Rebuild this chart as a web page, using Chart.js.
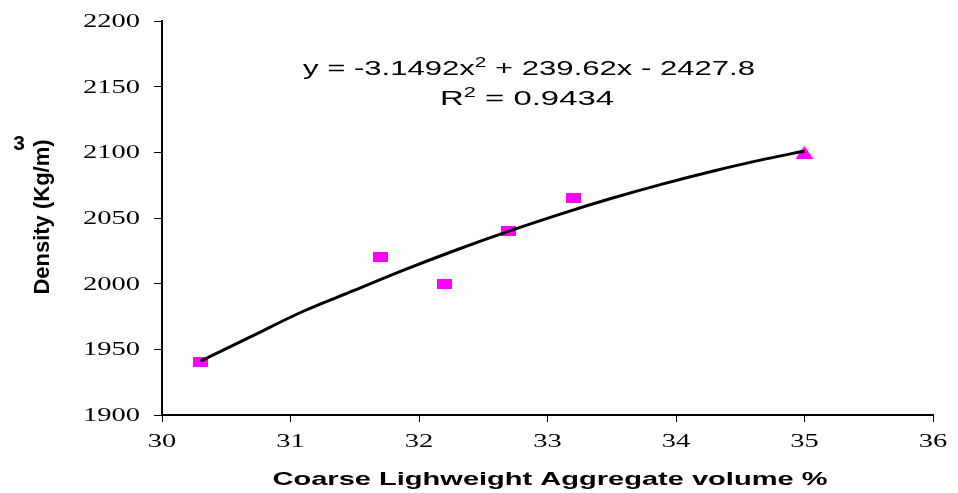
<!DOCTYPE html>
<html>
<head>
<meta charset="utf-8">
<script src="https://cdn.jsdelivr.net/npm/chart.js@4"></script>
<style>
  html, body { margin: 0; padding: 0; background: #fff; }
  #wrap { width: 958px; height: 493px; }
</style>
</head>
<body>
<div id="wrap"><canvas id="densityChart"></canvas></div>
<script>
// measured points (Coarse LWA volume %, density kg/m3)
const volume = [30.3, 31.7, 32.2, 32.7, 33.2];
const density = [1940, 2020, 2000, 2040, 2065];
const lastVolume = [35.0];
const lastDensity = [2100];

// polynomial trendline
const trendX = [30.3, 30.7, 31.1, 31.5, 31.9, 32.3, 32.7, 33.1, 33.5, 33.9, 34.3, 34.7, 35.0];
const trendY = [1941, 1960, 1979, 1995, 2011, 2026, 2040, 2053, 2065, 2076, 2086, 2095, 2101];

const xTicks = [30, 31, 32, 33, 34, 35, 36];
const yTicks = [1900, 1950, 2000, 2050, 2100, 2150, 2200];

const toXY = (xs, ys) => xs.map((x, i) => ({x: x, y: ys[i]}));

// marker images
function rectMarker() {
  const c = document.createElement('canvas');
  c.width = 15; c.height = 10;
  const g = c.getContext('2d');
  g.fillStyle = '#FF00FF';
  g.fillRect(0, 0, 15, 10);
  return c;
}
function triMarker() {
  const c = document.createElement('canvas');
  c.width = 18; c.height = 13;
  const g = c.getContext('2d');
  g.fillStyle = '#FF00FF';
  g.beginPath();
  g.moveTo(9, 0); g.lineTo(18, 13); g.lineTo(0, 13);
  g.closePath(); g.fill();
  return c;
}

// draws runs of text squeezed/stretched horizontally to a given width
function drawRich(ctx, parts, cx, baseline, targetWidth) {
  let w = 0;
  parts.forEach(p => { ctx.font = p.font; w += ctx.measureText(p.t).width; });
  const sx = targetWidth / w;
  ctx.save();
  ctx.translate(cx - targetWidth / 2, baseline);
  ctx.scale(sx, 1);
  ctx.textAlign = 'left';
  ctx.textBaseline = 'alphabetic';
  let x = 0;
  parts.forEach(p => {
    ctx.font = p.font;
    ctx.fillText(p.t, x, p.dy || 0);
    x += ctx.measureText(p.t).width;
  });
  ctx.restore();
}

const textPlugin = {
  id: 'excelText',
  afterDraw(chart) {
    const ctx = chart.ctx;
    const xs = chart.scales.x, ys = chart.scales.y;
    ctx.save();
    ctx.fillStyle = '#000';
    // tick labels (stretched serif like the original)
    ctx.font = '19px "Liberation Serif"';
    yTicks.forEach(v => {
      const y = ys.getPixelForValue(v);
      ctx.save();
      ctx.translate(140, y);
      ctx.scale(1.5, 1);
      ctx.textAlign = 'right';
      ctx.textBaseline = 'middle';
      ctx.fillText(String(v), 0, 1);
      ctx.restore();
    });
    xTicks.forEach(v => {
      const x = xs.getPixelForValue(v);
      ctx.save();
      ctx.translate(x, 447);
      ctx.scale(1.5, 1);
      ctx.textAlign = 'center';
      ctx.textBaseline = 'alphabetic';
      ctx.fillText(String(v), 0, 0);
      ctx.restore();
    });

    // axis titles
    drawRich(ctx, [{t: 'Coarse Lighweight Aggregate volume %', font: 'bold 19px "Liberation Sans"'}], 550, 485, 555);

    ctx.save();
    ctx.translate(49, 217);
    ctx.rotate(-Math.PI / 2);
    ctx.font = 'bold 22px "Liberation Sans"';
    ctx.textAlign = 'center';
    ctx.textBaseline = 'alphabetic';
    ctx.fillText('Density (Kg/m)', 0, 0);
    ctx.restore();
    ctx.font = 'bold 21px "Liberation Sans"';
    ctx.textAlign = 'center';
    ctx.textBaseline = 'alphabetic';
    ctx.fillText('3', 19, 150);

    // trendline equation
    const reg = '21px "Liberation Sans"', sup = '14px "Liberation Sans"';
    drawRich(ctx, [
      {t: 'y = -3.1492x', font: reg},
      {t: '2', font: sup, dy: -8},
      {t: ' + 239.62x - 2427.8', font: reg}
    ], 529, 75, 452);
    drawRich(ctx, [
      {t: 'R', font: reg},
      {t: '2', font: sup, dy: -8},
      {t: ' = 0.9434', font: reg}
    ], 527, 105, 174);
    ctx.restore();
  }
};

const config = {
  type: 'scatter',
  data: {
    datasets: [
      {
        label: 'Poly. trend',
        data: toXY(trendX, trendY),
        showLine: true,
        borderColor: '#000',
        borderWidth: 3,
        tension: 0.4,
        pointRadius: 0
      },
      {
        label: 'Density',
        data: toXY(volume, density),
        pointStyle: rectMarker(),
        backgroundColor: '#FF00FF'
      },
      {
        label: 'Density 35%',
        data: toXY(lastVolume, lastDensity),
        pointStyle: triMarker(),
        backgroundColor: '#FF00FF'
      }
    ]
  },
  options: {
    responsive: true,
    maintainAspectRatio: false,
    animation: false,
    layout: { padding: { left: 154, right: 25, top: 21, bottom: 71 } },
    plugins: { legend: { display: false }, tooltip: { enabled: false } },
    scales: {
      x: {
        type: 'linear', min: 30, max: 36,
        ticks: { display: false, stepSize: 1 },
        grid: { drawOnChartArea: false, drawTicks: true, tickLength: 7, color: '#000', lineWidth: 1 },
        border: { display: true, color: '#000', width: 2 }
      },
      y: {
        type: 'linear', min: 1900, max: 2200,
        ticks: { display: false, stepSize: 50 },
        grid: { drawOnChartArea: false, drawTicks: true, tickLength: 8, color: '#000', lineWidth: 1 },
        border: { display: true, color: '#000', width: 2 }
      }
    }
  },
  plugins: [textPlugin]
};

const densityChart = new Chart(document.getElementById('densityChart'), config);
</script>
</body>
</html>
